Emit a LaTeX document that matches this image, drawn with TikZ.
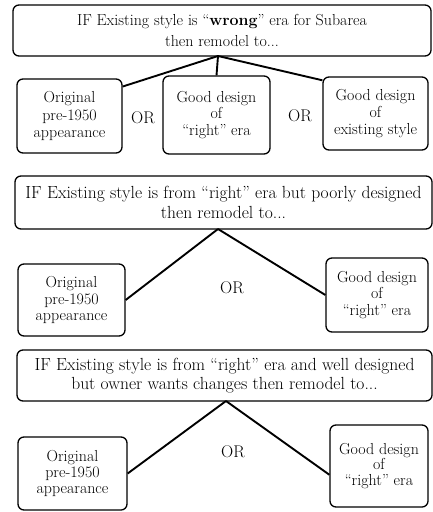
\documentclass[tikz,border=0pt]{standalone}
\usetikzlibrary{positioning}
\begin{document}
\begin{tikzpicture}[x=1bp,y=-1bp,
  font=\fontsize{16}{17}\selectfont,
  hdr/.style={draw,rounded corners=6pt,line width=1.3pt,align=center,inner sep=0pt},
  opt/.style={draw,rounded corners=6pt,line width=1.3pt,align=center,inner sep=0pt},
  orlbl/.style={inner sep=0pt,font=\fontsize{17}{18}\selectfont},
  link/.style={line width=1.9pt}]
\useasboundingbox (0,0) rectangle (432,512);

% ---- top: wrong era
\node[hdr,minimum width=418bp,minimum height=51bp,font=\fontsize{16}{22}\selectfont] (hd1) at (222,30.5)
  {IF Existing style is “\textbf{wrong}” era for Subarea\\then remodel to...};
\node[opt,minimum width=105bp,minimum height=74bp,font=\fontsize{16}{18}\selectfont] (orig1) at (69.5,116) {Original\\pre-1950\\appearance};
\node[orlbl] (or1a) at (143,118) {OR};
\node[opt,minimum width=107bp,minimum height=78bp] (good1) at (216.5,115) {Good design\\of\\“right” era};
\node[orlbl] (or1b) at (300,116) {OR};
\node[opt,minimum width=105bp,minimum height=73bp] (exst1) at (375.5,113.5) {Good design\\of\\existing style};
\coordinate (ap1) at (218,56);
\draw[link] (ap1) -- (orig1.29);
\draw[link] (ap1) -- (good1.north);
\draw[link] (ap1) -- (exst1.148);

% ---- middle: right era, poorly designed
\node[hdr,minimum width=417bp,minimum height=53bp,font=\fontsize{17.6}{20}\selectfont] (hd2) at (223.5,202.5)
  {IF Existing style is from “right” era but poorly designed\\then remodel to...};
\node[opt,minimum width=107bp,minimum height=72bp] (orig2) at (71.5,300) {Original\\pre-1950\\appearance};
\node[orlbl] (or2) at (232,288) {OR};
\node[opt,minimum width=102bp,minimum height=74bp] (good2) at (377,295) {Good design\\of\\“right” era};
\coordinate (ap2) at (218,229);
\draw[link] (ap2) -- (orig2.east);
\draw[link] (ap2) -- (good2.west);

% ---- bottom: right era, well designed
\node[hdr,minimum width=415bp,minimum height=51bp,font=\fontsize{17.6}{18.5}\selectfont] (hd3) at (224.5,375.5)
  {IF Existing style is from “right” era and well designed\\but owner wants changes then remodel to...};
\node[opt,minimum width=109bp,minimum height=73bp,font=\fontsize{16}{16}\selectfont] (orig3) at (72.5,473.5) {Original\\pre-1950\\appearance};
\node[orlbl] (or3) at (233,452) {OR};
\node[opt,minimum width=98bp,minimum height=82bp,font=\fontsize{16}{16}\selectfont] (good3) at (379,466) {Good design\\of\\“right” era};
\coordinate (ap3) at (226,401);
\draw[link] (ap3) -- (orig3.east);
\draw[link] (ap3) -- (good3.190);
\end{tikzpicture}
\end{document}
